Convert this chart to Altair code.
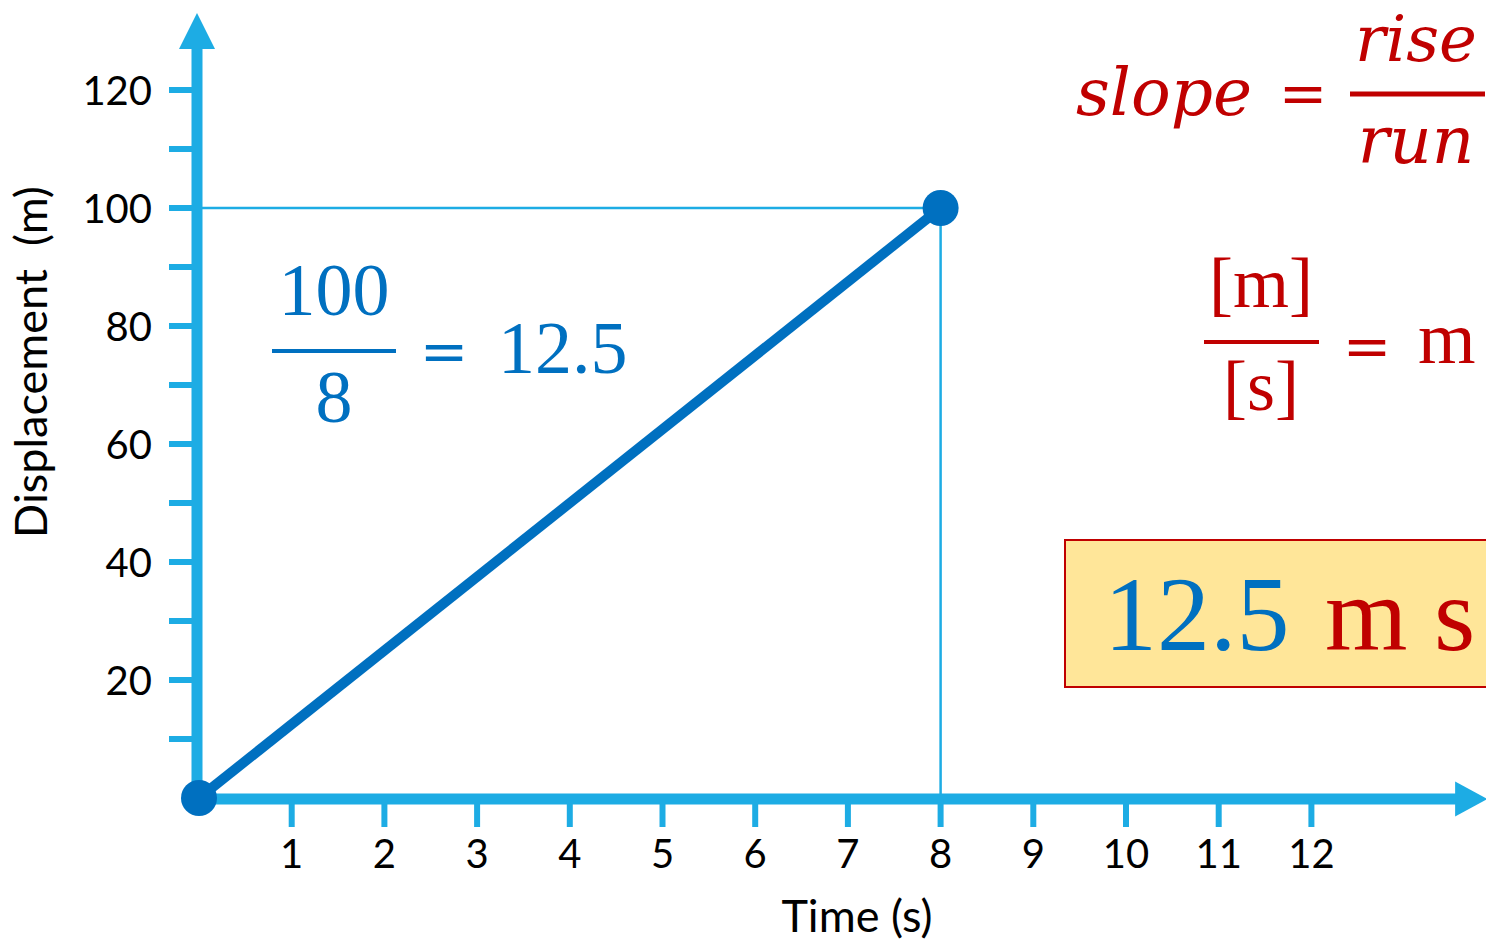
import altair as alt
import pandas as pd

# --- data -------------------------------------------------------------
time_s = [0, 8]
displacement_m = [0, 100]

x_tick_values = [1, 2, 3, 4, 5, 6, 7, 8, 9, 10, 11, 12]
y_tick_values = [10, 20, 30, 40, 50, 60, 70, 80, 90, 100, 110, 120]
y_label_values = [20, 40, 60, 80, 100, 120]

# --- layout ------------------------------------------------------------
W, H = 1486, 943
X0_PX, X_UNIT = 199, 92.7      # pixel of t=0, pixels per second
Y0_PX, Y_UNIT = 798, 5.9       # pixel of d=0, pixels per metre

AXIS_BLUE = "#1DACE4"
LINE_BLUE = "#0070C0"
RED = "#C00000"
SANS = "Lato"
SERIF = "Liberation Serif"
SERIF_IT = "DejaVu Serif"
MATH = "DejaVu Serif"

x_scale = alt.Scale(domain=[-X0_PX / X_UNIT, (W - X0_PX) / X_UNIT], nice=False, zero=False)
y_scale = alt.Scale(domain=[-(H - Y0_PX) / Y_UNIT, Y0_PX / Y_UNIT], nice=False, zero=False)


def X(field):
    return alt.X(field, type="quantitative", scale=x_scale, axis=None)


def Y(field):
    return alt.Y(field, type="quantitative", scale=y_scale, axis=None)


series = pd.DataFrame({"t": time_s, "d": displacement_m})
end_point = series.tail(1)
one = pd.DataFrame({"k": [0]})
xticks = pd.DataFrame({"v": x_tick_values})
yticks = pd.DataFrame({"v": y_tick_values})
ylabels = pd.DataFrame({"v": y_label_values})


def note(text, x, y, size, color, font=SERIF, align="center", italic=False, baseline="alphabetic"):
    return alt.Chart(one).mark_text(
        text=text, font=font, fontSize=size, color=color, align=align,
        baseline=baseline, fontStyle="italic" if italic else "normal",
    ).encode(x=alt.value(x), y=alt.value(y))


def bar(x1, x2, y, width, color):
    return alt.Chart(one).mark_rule(color=color, strokeWidth=width).encode(
        x=alt.value(x1), x2=alt.value(x2), y=alt.value(y)
    )


# guide lines from the end point back to the axes
guide_h = alt.Chart(end_point).transform_calculate(z="0").mark_rule(
    color=AXIS_BLUE, strokeWidth=2.5
).encode(x=X("z"), x2="t:Q", y=Y("d"))
guide_v = alt.Chart(end_point).transform_calculate(z="0").mark_rule(
    color=AXIS_BLUE, strokeWidth=2.5
).encode(x=X("t"), y=Y("z"), y2="d:Q")

# axis lines and arrowheads
y_axis_line = alt.Chart(one).mark_rule(color=AXIS_BLUE, strokeWidth=11).encode(
    x=alt.value(197), y=alt.value(805), y2=alt.value(46)
)
x_axis_line = alt.Chart(one).mark_rule(color=AXIS_BLUE, strokeWidth=11).encode(
    x=alt.value(191), x2=alt.value(1460), y=alt.value(799)
)
y_arrow = alt.Chart(one).mark_point(
    shape="M0,-1L1,1L-1,1Z", filled=True, size=1296, color=AXIS_BLUE, opacity=1, strokeWidth=0
).encode(x=alt.value(197), y=alt.value(31))
x_arrow = alt.Chart(one).mark_point(
    shape="M1,0L-0.85,-1L-0.85,1Z", filled=True, size=1225, color=AXIS_BLUE, opacity=1, strokeWidth=0
).encode(x=alt.value(1470), y=alt.value(799))

# tick marks and labels
y_tick_marks = alt.Chart(yticks).mark_rule(color=AXIS_BLUE, strokeWidth=6).encode(
    x=alt.value(169), x2=alt.value(197), y=Y("v")
)
x_tick_marks = alt.Chart(xticks).mark_rule(color=AXIS_BLUE, strokeWidth=6).encode(
    x=X("v"), y=alt.value(799), y2=alt.value(827)
)
y_tick_labels = alt.Chart(ylabels).mark_text(
    font=SANS, fontSize=40, color="black", align="right", baseline="middle", dy=3
).encode(x=alt.value(152), y=Y("v"), text="v:Q")
x_tick_labels = alt.Chart(xticks).mark_text(
    font=SANS, fontSize=40, color="black", align="center", baseline="middle"
).encode(x=X("v"), y=alt.value(856), text="v:Q")

y_title = alt.Chart(one).mark_text(
    text="Displacement\u00a0\u00a0(m)", font=SANS, fontSize=45, color="black", angle=270,
    align="center", baseline="middle"
).encode(x=alt.value(33), y=alt.value(362))
x_title = note("Time (s)", 857, 918, 45, "black", font=SANS, baseline="middle")

# displacement-time line and its end points
line = alt.Chart(series).mark_line(color=LINE_BLUE, strokeWidth=10, strokeCap="butt").encode(
    x=X("t"), y=Y("d")
)
points = alt.Chart(series).mark_circle(size=1296, color=LINE_BLUE, opacity=1).encode(
    x=X("t"), y=Y("d")
)

# gradient worked out on the graph
grad = [
    note("100", 334, 315, 74, LINE_BLUE),
    bar(272, 396, 351, 4, LINE_BLUE),
    note("8", 334, 422, 74, LINE_BLUE),
    note("=", 444, 371, 58, LINE_BLUE, font=MATH),
    note("12.5", 498, 373, 74, LINE_BLUE, align="left"),
]

# slope definition
slope = [
    note("slope", 1076, 115, 66, RED, font=SERIF_IT, align="left", italic=True),
    note("=", 1303, 113, 58, RED, font=MATH),
    bar(1350, 1485, 94, 5, RED),
    note("rise", 1416, 61, 64, RED, font=SERIF_IT, italic=True),
    note("run", 1416, 163, 66, RED, font=SERIF_IT, italic=True),
]

# unit check
units = [
    note("[m]", 1261, 307, 72, RED),
    bar(1204, 1319, 342, 4, RED),
    note("[s]", 1261, 410, 72, RED),
    note("=", 1367, 366, 58, RED, font=MATH),
    note("m", 1418, 363, 74, RED, align="left"),
]

# answer box
box = alt.Chart(one).mark_rect(fill="#FFE699", stroke=RED, strokeWidth=2).encode(
    x=alt.value(1065), x2=alt.value(1492), y=alt.value(540), y2=alt.value(687)
)
answer = [
    note("12.5", 1104, 650, 106, LINE_BLUE, align="left"),
    note("m s", 1325, 650, 106, RED, align="left"),
]

chart = alt.layer(
    guide_h, guide_v,
    y_axis_line, x_axis_line, y_arrow, x_arrow,
    y_tick_marks, x_tick_marks, y_tick_labels, x_tick_labels,
    y_title, x_title,
    line, points,
    *grad, *slope, *units,
    box, *answer,
).properties(
    width=W, height=H,
    autosize=alt.AutoSizeParams(type="none"),
    padding=0,
    background="white",
).configure_view(stroke=None)

chart.save("out.html", embed_options={"renderer": "svg", "actions": False})
